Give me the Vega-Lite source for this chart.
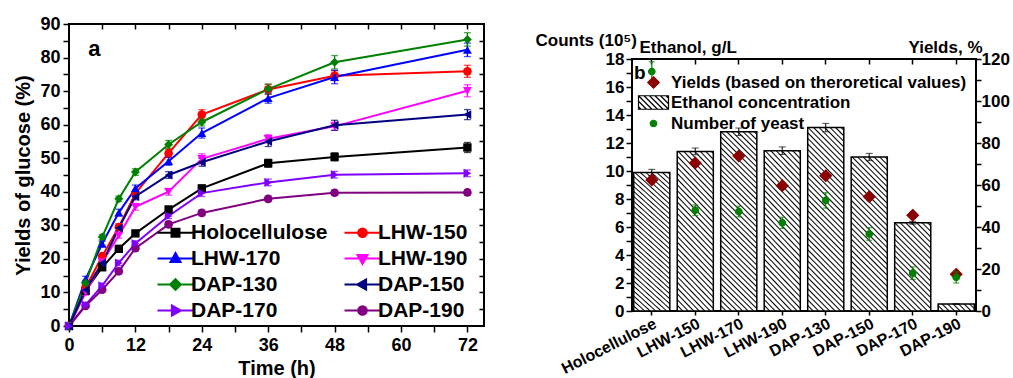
{
"$schema": "https://vega.github.io/schema/vega-lite/v6.json",
"padding": {"left": 12, "top": 14, "right": 3, "bottom": 0},
"spacing": 48,
"background": "white",
"config": {
 "font": "Liberation Sans",
 "view": {"stroke": "black", "strokeWidth": 2},
 "axis": {"labelFontWeight": "bold", "titleFontWeight": "bold", "labelColor": "black", "titleColor": "black", "tickColor": "black", "tickWidth": 1.5, "domain": false, "grid": false, "labelOverlap": false},
 "legend": {"labelFontWeight": "bold", "labelColor": "black"}
},
"datasets": {
 "glucose": [
  {"series":"Holocellulose","t":0,"v":0,"e":0},{"series":"Holocellulose","t":3,"v":10.5,"e":0.8},{"series":"Holocellulose","t":6,"v":17.5,"e":0.8},{"series":"Holocellulose","t":9,"v":23.0,"e":0.8},{"series":"Holocellulose","t":12,"v":27.6,"e":0.8},{"series":"Holocellulose","t":18,"v":34.7,"e":1.0},{"series":"Holocellulose","t":24,"v":41.0,"e":1.0},{"series":"Holocellulose","t":36,"v":48.5,"e":1.2},{"series":"Holocellulose","t":48,"v":50.4,"e":1.2},{"series":"Holocellulose","t":72,"v":53.2,"e":1.5},
  {"series":"LHW-150","t":0,"v":0,"e":0},{"series":"LHW-150","t":3,"v":11.5,"e":0.8},{"series":"LHW-150","t":6,"v":20.8,"e":0.8},{"series":"LHW-150","t":9,"v":29.5,"e":1.0},{"series":"LHW-150","t":12,"v":39.5,"e":1.0},{"series":"LHW-150","t":18,"v":51.5,"e":1.2},{"series":"LHW-150","t":24,"v":63.0,"e":1.5},{"series":"LHW-150","t":36,"v":70.5,"e":1.5},{"series":"LHW-150","t":48,"v":74.6,"e":1.5},{"series":"LHW-150","t":72,"v":75.9,"e":1.8},
  {"series":"LHW-170","t":0,"v":0,"e":0},{"series":"LHW-170","t":3,"v":14.0,"e":0.8},{"series":"LHW-170","t":6,"v":24.5,"e":0.8},{"series":"LHW-170","t":9,"v":33.8,"e":1.0},{"series":"LHW-170","t":12,"v":41.0,"e":1.0},{"series":"LHW-170","t":18,"v":49.1,"e":1.2},{"series":"LHW-170","t":24,"v":57.5,"e":1.5},{"series":"LHW-170","t":36,"v":67.9,"e":1.5},{"series":"LHW-170","t":48,"v":74.2,"e":2.0},{"series":"LHW-170","t":72,"v":82.3,"e":2.0},
  {"series":"LHW-190","t":0,"v":0,"e":0},{"series":"LHW-190","t":3,"v":10.0,"e":0.8},{"series":"LHW-190","t":6,"v":19.0,"e":0.8},{"series":"LHW-190","t":9,"v":27.0,"e":0.8},{"series":"LHW-190","t":12,"v":35.5,"e":1.0},{"series":"LHW-190","t":18,"v":40.0,"e":1.0},{"series":"LHW-190","t":24,"v":49.8,"e":1.5},{"series":"LHW-190","t":36,"v":55.8,"e":1.2},{"series":"LHW-190","t":48,"v":59.5,"e":1.2},{"series":"LHW-190","t":72,"v":70.1,"e":1.8},
  {"series":"DAP-130","t":0,"v":0,"e":0},{"series":"DAP-130","t":3,"v":12.8,"e":0.8},{"series":"DAP-130","t":6,"v":26.5,"e":0.8},{"series":"DAP-130","t":9,"v":37.9,"e":0.8},{"series":"DAP-130","t":12,"v":45.9,"e":1.0},{"series":"DAP-130","t":18,"v":54.1,"e":1.2},{"series":"DAP-130","t":24,"v":60.8,"e":1.2},{"series":"DAP-130","t":36,"v":70.6,"e":1.5},{"series":"DAP-130","t":48,"v":78.6,"e":2.0},{"series":"DAP-130","t":72,"v":85.4,"e":2.0},
  {"series":"DAP-150","t":0,"v":0,"e":0},{"series":"DAP-150","t":3,"v":10.8,"e":0.8},{"series":"DAP-150","t":6,"v":18.8,"e":0.8},{"series":"DAP-150","t":9,"v":29.2,"e":0.8},{"series":"DAP-150","t":12,"v":38.6,"e":1.0},{"series":"DAP-150","t":18,"v":45.0,"e":1.0},{"series":"DAP-150","t":24,"v":48.8,"e":1.2},{"series":"DAP-150","t":36,"v":55.0,"e":1.5},{"series":"DAP-150","t":48,"v":59.8,"e":1.5},{"series":"DAP-150","t":72,"v":63.0,"e":1.5},
  {"series":"DAP-170","t":0,"v":0,"e":0},{"series":"DAP-170","t":3,"v":6.3,"e":0.6},{"series":"DAP-170","t":6,"v":12.0,"e":0.8},{"series":"DAP-170","t":9,"v":18.8,"e":0.8},{"series":"DAP-170","t":12,"v":24.6,"e":0.8},{"series":"DAP-170","t":18,"v":32.8,"e":0.8},{"series":"DAP-170","t":24,"v":39.6,"e":1.0},{"series":"DAP-170","t":36,"v":42.8,"e":1.0},{"series":"DAP-170","t":48,"v":45.1,"e":1.0},{"series":"DAP-170","t":72,"v":45.5,"e":1.0},
  {"series":"DAP-190","t":0,"v":0,"e":0},{"series":"DAP-190","t":3,"v":6.0,"e":0.6},{"series":"DAP-190","t":6,"v":10.8,"e":0.6},{"series":"DAP-190","t":9,"v":16.3,"e":0.8},{"series":"DAP-190","t":12,"v":23.2,"e":0.8},{"series":"DAP-190","t":18,"v":30.3,"e":0.8},{"series":"DAP-190","t":24,"v":33.7,"e":0.8},{"series":"DAP-190","t":36,"v":37.9,"e":0.8},{"series":"DAP-190","t":48,"v":39.7,"e":0.8},{"series":"DAP-190","t":72,"v":39.8,"e":0.8}
 ],
 "eth": [
  {"sample":"Holocellulose","ethanol":9.9,"ethanol_err":0.22,"yield":62.4,"yield_err":1.5,"yeast":17.1,"yeast_err":0.7},
  {"sample":"LHW-150","ethanol":11.4,"ethanol_err":0.24,"yield":70.5,"yield_err":1.5,"yeast":7.2,"yeast_err":0.38},
  {"sample":"LHW-170","ethanol":12.8,"ethanol_err":0.27,"yield":73.8,"yield_err":1.5,"yeast":7.1,"yeast_err":0.38},
  {"sample":"LHW-190","ethanol":11.45,"ethanol_err":0.27,"yield":59.7,"yield_err":1.5,"yeast":6.3,"yeast_err":0.4},
  {"sample":"DAP-130","ethanol":13.1,"ethanol_err":0.3,"yield":64.4,"yield_err":1.5,"yeast":7.9,"yeast_err":0.55},
  {"sample":"DAP-150","ethanol":11.0,"ethanol_err":0.26,"yield":54.4,"yield_err":1.5,"yeast":5.5,"yeast_err":0.45},
  {"sample":"DAP-170","ethanol":6.3,"ethanol_err":0.1,"yield":45.6,"yield_err":1.5,"yeast":2.7,"yeast_err":0.45},
  {"sample":"DAP-190","ethanol":0.5,"ethanol_err":0,"yield":17.5,"yield_err":1.5,"yeast":2.4,"yeast_err":0.4}
 ]
},
"hconcat": [
 {
  "width": 415, "height": 302,
  "data": {"name": "glucose"},
  "layer": [
   {"mark": {"type": "point", "filled": true, "opacity": 1, "size": 0, "strokeWidth": 2},
    "encoding": {
     "x": {"field": "t", "type": "quantitative", "axis": null},
     "y": {"field": "v", "type": "quantitative", "axis": null},
     "fill": {"field": "series", "type": "nominal",
       "scale": {"domain": ["Holocellulose","LHW-150","LHW-170","LHW-190","DAP-130","DAP-150","DAP-170","DAP-190"], "range": ["#000000","#ff0000","#0000ff","#ff00ff","#008000","#000080","#8000ff","#800080"]},
       "legend": {"title": null, "orient": "none", "direction": "horizontal", "legendX": 96, "legendY": 198, "columns": 2, "symbolSize": 100, "symbolOpacity": 1, "symbolStrokeWidth": 2, "labelFontSize": 21, "labelOffset": 5, "columnPadding": 12, "rowPadding": 4, "labelLimit": 300}},
     "stroke": {"field": "series", "type": "nominal",
       "scale": {"domain": ["Holocellulose","LHW-150","LHW-170","LHW-190","DAP-130","DAP-150","DAP-170","DAP-190"], "range": ["#000000","#ff0000","#0000ff","#ff00ff","#008000","#000080","#8000ff","#800080"]}},
     "shape": {"field": "series", "type": "nominal",
       "scale": {"domain": ["Holocellulose","LHW-150","LHW-170","LHW-190","DAP-130","DAP-150","DAP-170","DAP-190"],
                 "range": ["M-3.6,0H3.6M-0.8,-0.8H0.8V0.8H-0.8Z",
                           "M-3.6,0H3.6M0.86,0A0.86,0.86,0,1,1,-0.86,0A0.86,0.86,0,1,1,0.86,0Z",
                           "M-3.6,0H3.6M0,-1.08L1,0.72L-1,0.72Z",
                           "M-3.6,0H3.6M0,1.08L1,-0.72L-1,-0.72Z",
                           "M-3.6,0H3.6M0,-1.08L1.08,0L0,1.08L-1.08,0Z",
                           "M-3.6,0H3.6M-1.08,0L0.72,-1L0.72,1Z",
                           "M-3.6,0H3.6M1.08,0L-0.72,-1L-0.72,1Z",
                           "M-3.6,0H3.6M0.86,0A0.86,0.86,0,1,1,-0.86,0A0.86,0.86,0,1,1,0.86,0Z"]}}
    }},
   {"mark": {"type": "line", "strokeWidth": 2},
    "encoding": {
     "x": {"field": "t", "type": "quantitative", "scale": {"domain": [0, 75], "nice": false, "zero": false},
           "axis": {"orient": "bottom", "values": [0,6,12,18,24,30,36,42,48,54,60,66,72], "labelExpr": "datum.value % 12 === 0 ? datum.label : ''", "tickSize": 6, "labelFontSize": 18, "labelPadding": 4, "labelFlush": false, "title": "Time (h)", "titleFontSize": 20, "titlePadding": 4,
                    "encode": {"ticks": {"update": {"y2": [{"test": "datum.value % 12 === 0", "value": 6}, {"value": 3}]}}}}},
     "y": {"field": "v", "type": "quantitative", "scale": {"domain": [0, 90], "nice": false},
           "axis": {"orient": "left", "values": [0,5,10,15,20,25,30,35,40,45,50,55,60,65,70,75,80,85,90], "labelExpr": "datum.value % 10 === 0 ? datum.label : ''", "tickSize": 6, "labelFontSize": 18, "labelPadding": 3, "title": "Yields of glucose (%)", "titleFontSize": 20, "titlePadding": 6,
                    "encode": {"ticks": {"update": {"x2": [{"test": "datum.value % 10 === 0", "value": -6}, {"value": -3}]}}}}},
     "color": {"field": "series", "type": "nominal", "scale": {"domain": ["Holocellulose","LHW-150","LHW-170","LHW-190","DAP-130","DAP-150","DAP-170","DAP-190"], "range": ["#000000","#ff0000","#0000ff","#ff00ff","#008000","#000080","#8000ff","#800080"]}, "legend": null}
    }},
   {"mark": {"type": "errorbar", "ticks": {"size": 7}, "thickness": 1.3},
    "encoding": {
     "x": {"field": "t", "type": "quantitative", "axis": null},
     "y": {"field": "v", "type": "quantitative", "axis": null},
     "yError": {"field": "e"},
     "color": {"field": "series", "type": "nominal", "legend": null}
    }},
   {"transform": [{"filter": {"field": "series", "oneOf": ["Holocellulose"]}}],
    "mark": {"type": "point", "filled": true, "size": 70, "opacity": 1, "shape": "square"},
    "encoding": {
     "x": {"field": "t", "type": "quantitative", "axis": {"orient": "top", "values": [6,12,18,24,30,36,42,48,54,60,66,72], "labels": false, "tickSize": -5, "title": null}},
     "y": {"field": "v", "type": "quantitative", "axis": {"orient": "right", "values": [5,10,15,20,25,30,35,40,45,50,55,60,65,70,75,80,85], "labels": false, "tickSize": -5, "title": null}},
     "color": {"field": "series", "type": "nominal", "legend": null}
    }},
   {"transform": [{"filter": {"field": "series", "oneOf": ["LHW-150","DAP-190"]}}],
    "mark": {"type": "point", "filled": true, "size": 75, "opacity": 1, "shape": "circle"},
    "encoding": {"x": {"field": "t", "type": "quantitative", "axis": null}, "y": {"field": "v", "type": "quantitative", "axis": null}, "color": {"field": "series", "type": "nominal", "legend": null}}},
   {"transform": [{"filter": {"field": "series", "oneOf": ["LHW-170"]}}],
    "mark": {"type": "point", "filled": true, "size": 80, "opacity": 1, "shape": "triangle-up"},
    "encoding": {"x": {"field": "t", "type": "quantitative", "axis": null}, "y": {"field": "v", "type": "quantitative", "axis": null}, "color": {"field": "series", "type": "nominal", "legend": null}}},
   {"transform": [{"filter": {"field": "series", "oneOf": ["LHW-190"]}}],
    "mark": {"type": "point", "filled": true, "size": 80, "opacity": 1, "shape": "triangle-down"},
    "encoding": {"x": {"field": "t", "type": "quantitative", "axis": null}, "y": {"field": "v", "type": "quantitative", "axis": null}, "color": {"field": "series", "type": "nominal", "legend": null}}},
   {"transform": [{"filter": {"field": "series", "oneOf": ["DAP-130"]}}],
    "mark": {"type": "point", "filled": true, "size": 80, "opacity": 1, "shape": "diamond"},
    "encoding": {"x": {"field": "t", "type": "quantitative", "axis": null}, "y": {"field": "v", "type": "quantitative", "axis": null}, "color": {"field": "series", "type": "nominal", "legend": null}}},
   {"transform": [{"filter": {"field": "series", "oneOf": ["DAP-150"]}}],
    "mark": {"type": "point", "filled": true, "size": 80, "opacity": 1, "shape": "triangle-left"},
    "encoding": {"x": {"field": "t", "type": "quantitative", "axis": null}, "y": {"field": "v", "type": "quantitative", "axis": null}, "color": {"field": "series", "type": "nominal", "legend": null}}},
   {"transform": [{"filter": {"field": "series", "oneOf": ["DAP-170"]}}],
    "mark": {"type": "point", "filled": true, "size": 80, "opacity": 1, "shape": "triangle-right"},
    "encoding": {"x": {"field": "t", "type": "quantitative", "axis": null}, "y": {"field": "v", "type": "quantitative", "axis": null}, "color": {"field": "series", "type": "nominal", "legend": null}}},
   {"data": {"values": [{"label": "a"}]},
    "mark": {"type": "text", "fontSize": 22, "fontWeight": "bold", "align": "left", "baseline": "middle", "color": "black"},
    "encoding": {"x": {"datum": 3.5, "type": "quantitative", "axis": null}, "y": {"datum": 82.5, "type": "quantitative", "axis": null}, "text": {"field": "label"}}}
  ],
  "resolve": {"axis": {"x": "independent", "y": "independent"}}
 },
 {
  "spacing": 0,
  "vconcat": [
   {"width": 344, "height": 6, "data": {"values": []}, "mark": "point", "encoding": {}, "view": {"stroke": null}},
   {
    "width": 344, "height": 252,
    "data": {"name": "eth"},
    "layer": [
     {"transform": [{"filter": {"field": "sample", "oneOf": ["Holocellulose","LHW-150","LHW-190","DAP-150"]}}],
      "mark": {"type": "bar", "stroke": "black", "strokeWidth": 1.5,
        "fill": {"gradient":"linear","x1":0,"y1":1,"x2":0.3214,"y2":-0.3622,"stops":[{"offset":0,"color":"#000"},{"offset":0.0065,"color":"#fff"},{"offset":0.0185,"color":"#fff"},{"offset":0.025,"color":"#000"},{"offset":0.0315,"color":"#fff"},{"offset":0.0435,"color":"#fff"},{"offset":0.05,"color":"#000"},{"offset":0.0565,"color":"#fff"},{"offset":0.0685,"color":"#fff"},{"offset":0.075,"color":"#000"},{"offset":0.0815,"color":"#fff"},{"offset":0.0935,"color":"#fff"},{"offset":0.1,"color":"#000"},{"offset":0.1065,"color":"#fff"},{"offset":0.1185,"color":"#fff"},{"offset":0.125,"color":"#000"},{"offset":0.1315,"color":"#fff"},{"offset":0.1435,"color":"#fff"},{"offset":0.15,"color":"#000"},{"offset":0.1565,"color":"#fff"},{"offset":0.1685,"color":"#fff"},{"offset":0.175,"color":"#000"},{"offset":0.1815,"color":"#fff"},{"offset":0.1935,"color":"#fff"},{"offset":0.2,"color":"#000"},{"offset":0.2065,"color":"#fff"},{"offset":0.2185,"color":"#fff"},{"offset":0.225,"color":"#000"},{"offset":0.2315,"color":"#fff"},{"offset":0.2435,"color":"#fff"},{"offset":0.25,"color":"#000"},{"offset":0.2565,"color":"#fff"},{"offset":0.2685,"color":"#fff"},{"offset":0.275,"color":"#000"},{"offset":0.2815,"color":"#fff"},{"offset":0.2935,"color":"#fff"},{"offset":0.3,"color":"#000"},{"offset":0.3065,"color":"#fff"},{"offset":0.3185,"color":"#fff"},{"offset":0.325,"color":"#000"},{"offset":0.3315,"color":"#fff"},{"offset":0.3435,"color":"#fff"},{"offset":0.35,"color":"#000"},{"offset":0.3565,"color":"#fff"},{"offset":0.3685,"color":"#fff"},{"offset":0.375,"color":"#000"},{"offset":0.3815,"color":"#fff"},{"offset":0.3935,"color":"#fff"},{"offset":0.4,"color":"#000"},{"offset":0.4065,"color":"#fff"},{"offset":0.4185,"color":"#fff"},{"offset":0.425,"color":"#000"},{"offset":0.4315,"color":"#fff"},{"offset":0.4435,"color":"#fff"},{"offset":0.45,"color":"#000"},{"offset":0.4565,"color":"#fff"},{"offset":0.4685,"color":"#fff"},{"offset":0.475,"color":"#000"},{"offset":0.4815,"color":"#fff"},{"offset":0.4935,"color":"#fff"},{"offset":0.5,"color":"#000"},{"offset":0.5065,"color":"#fff"},{"offset":0.5185,"color":"#fff"},{"offset":0.525,"color":"#000"},{"offset":0.5315,"color":"#fff"},{"offset":0.5435,"color":"#fff"},{"offset":0.55,"color":"#000"},{"offset":0.5565,"color":"#fff"},{"offset":0.5685,"color":"#fff"},{"offset":0.575,"color":"#000"},{"offset":0.5815,"color":"#fff"},{"offset":0.5935,"color":"#fff"},{"offset":0.6,"color":"#000"},{"offset":0.6065,"color":"#fff"},{"offset":0.6185,"color":"#fff"},{"offset":0.625,"color":"#000"},{"offset":0.6315,"color":"#fff"},{"offset":0.6435,"color":"#fff"},{"offset":0.65,"color":"#000"},{"offset":0.6565,"color":"#fff"},{"offset":0.6685,"color":"#fff"},{"offset":0.675,"color":"#000"},{"offset":0.6815,"color":"#fff"},{"offset":0.6935,"color":"#fff"},{"offset":0.7,"color":"#000"},{"offset":0.7065,"color":"#fff"},{"offset":0.7185,"color":"#fff"},{"offset":0.725,"color":"#000"},{"offset":0.7315,"color":"#fff"},{"offset":0.7435,"color":"#fff"},{"offset":0.75,"color":"#000"},{"offset":0.7565,"color":"#fff"},{"offset":0.7685,"color":"#fff"},{"offset":0.775,"color":"#000"},{"offset":0.7815,"color":"#fff"},{"offset":0.7935,"color":"#fff"},{"offset":0.8,"color":"#000"},{"offset":0.8065,"color":"#fff"},{"offset":0.8185,"color":"#fff"},{"offset":0.825,"color":"#000"},{"offset":0.8315,"color":"#fff"},{"offset":0.8435,"color":"#fff"},{"offset":0.85,"color":"#000"},{"offset":0.8565,"color":"#fff"},{"offset":0.8685,"color":"#fff"},{"offset":0.875,"color":"#000"},{"offset":0.8815,"color":"#fff"},{"offset":0.8935,"color":"#fff"},{"offset":0.9,"color":"#000"},{"offset":0.9065,"color":"#fff"},{"offset":0.9185,"color":"#fff"},{"offset":0.925,"color":"#000"},{"offset":0.9315,"color":"#fff"},{"offset":0.9435,"color":"#fff"},{"offset":0.95,"color":"#000"},{"offset":0.9565,"color":"#fff"},{"offset":0.9685,"color":"#fff"},{"offset":0.975,"color":"#000"},{"offset":0.9815,"color":"#fff"},{"offset":0.9935,"color":"#fff"},{"offset":1,"color":"#000"}]}},
      "encoding": {
       "x": {"field": "sample", "type": "nominal", "sort": null, "scale": {"type": "band", "domain": ["Holocellulose","LHW-150","LHW-170","LHW-190","DAP-130","DAP-150","DAP-170","DAP-190"], "paddingInner": 0.17, "paddingOuter": 0.04},
             "axis": {"orient": "bottom", "title": null, "labelAngle": -27, "labelAlign": "right", "labelBaseline": "top", "labelFontSize": 16, "labelPadding": 0, "tickSize": 4}},
       "y": {"field": "ethanol", "type": "quantitative", "scale": {"domain": [0, 18], "nice": false},
             "axis": {"orient": "left", "values": [0,1,2,3,4,5,6,7,8,9,10,11,12,13,14,15,16,17,18], "labelExpr": "datum.value % 2 === 0 ? datum.label : ''", "tickSize": 6, "labelFontSize": 17, "labelPadding": 2,
                      "title": "Counts (10⁵)", "titleAngle": 0, "titleAlign": "left", "titleBaseline": "alphabetic", "titleX": -97, "titleY": -14, "titleFontSize": 17,
                      "encode": {"ticks": {"update": {"x2": [{"test": "datum.value % 2 === 0", "value": -6}, {"value": -3}]}}}}}
      }},
     {"transform": [{"filter": {"field": "sample", "oneOf": ["LHW-170","DAP-130"]}}],
      "mark": {"type": "bar", "stroke": "black", "strokeWidth": 1.5,
        "fill": {"gradient":"linear","x1":0,"y1":1,"x2":0.2331,"y2":-0.1688,"stops":[{"offset":0,"color":"#000"},{"offset":0.0065,"color":"#fff"},{"offset":0.0185,"color":"#fff"},{"offset":0.025,"color":"#000"},{"offset":0.0315,"color":"#fff"},{"offset":0.0435,"color":"#fff"},{"offset":0.05,"color":"#000"},{"offset":0.0565,"color":"#fff"},{"offset":0.0685,"color":"#fff"},{"offset":0.075,"color":"#000"},{"offset":0.0815,"color":"#fff"},{"offset":0.0935,"color":"#fff"},{"offset":0.1,"color":"#000"},{"offset":0.1065,"color":"#fff"},{"offset":0.1185,"color":"#fff"},{"offset":0.125,"color":"#000"},{"offset":0.1315,"color":"#fff"},{"offset":0.1435,"color":"#fff"},{"offset":0.15,"color":"#000"},{"offset":0.1565,"color":"#fff"},{"offset":0.1685,"color":"#fff"},{"offset":0.175,"color":"#000"},{"offset":0.1815,"color":"#fff"},{"offset":0.1935,"color":"#fff"},{"offset":0.2,"color":"#000"},{"offset":0.2065,"color":"#fff"},{"offset":0.2185,"color":"#fff"},{"offset":0.225,"color":"#000"},{"offset":0.2315,"color":"#fff"},{"offset":0.2435,"color":"#fff"},{"offset":0.25,"color":"#000"},{"offset":0.2565,"color":"#fff"},{"offset":0.2685,"color":"#fff"},{"offset":0.275,"color":"#000"},{"offset":0.2815,"color":"#fff"},{"offset":0.2935,"color":"#fff"},{"offset":0.3,"color":"#000"},{"offset":0.3065,"color":"#fff"},{"offset":0.3185,"color":"#fff"},{"offset":0.325,"color":"#000"},{"offset":0.3315,"color":"#fff"},{"offset":0.3435,"color":"#fff"},{"offset":0.35,"color":"#000"},{"offset":0.3565,"color":"#fff"},{"offset":0.3685,"color":"#fff"},{"offset":0.375,"color":"#000"},{"offset":0.3815,"color":"#fff"},{"offset":0.3935,"color":"#fff"},{"offset":0.4,"color":"#000"},{"offset":0.4065,"color":"#fff"},{"offset":0.4185,"color":"#fff"},{"offset":0.425,"color":"#000"},{"offset":0.4315,"color":"#fff"},{"offset":0.4435,"color":"#fff"},{"offset":0.45,"color":"#000"},{"offset":0.4565,"color":"#fff"},{"offset":0.4685,"color":"#fff"},{"offset":0.475,"color":"#000"},{"offset":0.4815,"color":"#fff"},{"offset":0.4935,"color":"#fff"},{"offset":0.5,"color":"#000"},{"offset":0.5065,"color":"#fff"},{"offset":0.5185,"color":"#fff"},{"offset":0.525,"color":"#000"},{"offset":0.5315,"color":"#fff"},{"offset":0.5435,"color":"#fff"},{"offset":0.55,"color":"#000"},{"offset":0.5565,"color":"#fff"},{"offset":0.5685,"color":"#fff"},{"offset":0.575,"color":"#000"},{"offset":0.5815,"color":"#fff"},{"offset":0.5935,"color":"#fff"},{"offset":0.6,"color":"#000"},{"offset":0.6065,"color":"#fff"},{"offset":0.6185,"color":"#fff"},{"offset":0.625,"color":"#000"},{"offset":0.6315,"color":"#fff"},{"offset":0.6435,"color":"#fff"},{"offset":0.65,"color":"#000"},{"offset":0.6565,"color":"#fff"},{"offset":0.6685,"color":"#fff"},{"offset":0.675,"color":"#000"},{"offset":0.6815,"color":"#fff"},{"offset":0.6935,"color":"#fff"},{"offset":0.7,"color":"#000"},{"offset":0.7065,"color":"#fff"},{"offset":0.7185,"color":"#fff"},{"offset":0.725,"color":"#000"},{"offset":0.7315,"color":"#fff"},{"offset":0.7435,"color":"#fff"},{"offset":0.75,"color":"#000"},{"offset":0.7565,"color":"#fff"},{"offset":0.7685,"color":"#fff"},{"offset":0.775,"color":"#000"},{"offset":0.7815,"color":"#fff"},{"offset":0.7935,"color":"#fff"},{"offset":0.8,"color":"#000"},{"offset":0.8065,"color":"#fff"},{"offset":0.8185,"color":"#fff"},{"offset":0.825,"color":"#000"},{"offset":0.8315,"color":"#fff"},{"offset":0.8435,"color":"#fff"},{"offset":0.85,"color":"#000"},{"offset":0.8565,"color":"#fff"},{"offset":0.8685,"color":"#fff"},{"offset":0.875,"color":"#000"},{"offset":0.8815,"color":"#fff"},{"offset":0.8935,"color":"#fff"},{"offset":0.9,"color":"#000"},{"offset":0.9065,"color":"#fff"},{"offset":0.9185,"color":"#fff"},{"offset":0.925,"color":"#000"},{"offset":0.9315,"color":"#fff"},{"offset":0.9435,"color":"#fff"},{"offset":0.95,"color":"#000"},{"offset":0.9565,"color":"#fff"},{"offset":0.9685,"color":"#fff"},{"offset":0.975,"color":"#000"},{"offset":0.9815,"color":"#fff"},{"offset":0.9935,"color":"#fff"},{"offset":1,"color":"#000"}]}},
      "encoding": {"x": {"field": "sample", "type": "nominal", "sort": null, "axis": null}, "y": {"field": "ethanol", "type": "quantitative", "scale": {"domain": [0, 18], "nice": false}, "axis": null}}},
     {"transform": [{"filter": {"field": "sample", "oneOf": ["DAP-170"]}}],
      "mark": {"type": "bar", "stroke": "black", "strokeWidth": 1.5,
        "fill": {"gradient":"linear","x1":0,"y1":1,"x2":0.8779,"y2":-1.14,"stops":[{"offset":0,"color":"#000"},{"offset":0.0065,"color":"#fff"},{"offset":0.0185,"color":"#fff"},{"offset":0.025,"color":"#000"},{"offset":0.0315,"color":"#fff"},{"offset":0.0435,"color":"#fff"},{"offset":0.05,"color":"#000"},{"offset":0.0565,"color":"#fff"},{"offset":0.0685,"color":"#fff"},{"offset":0.075,"color":"#000"},{"offset":0.0815,"color":"#fff"},{"offset":0.0935,"color":"#fff"},{"offset":0.1,"color":"#000"},{"offset":0.1065,"color":"#fff"},{"offset":0.1185,"color":"#fff"},{"offset":0.125,"color":"#000"},{"offset":0.1315,"color":"#fff"},{"offset":0.1435,"color":"#fff"},{"offset":0.15,"color":"#000"},{"offset":0.1565,"color":"#fff"},{"offset":0.1685,"color":"#fff"},{"offset":0.175,"color":"#000"},{"offset":0.1815,"color":"#fff"},{"offset":0.1935,"color":"#fff"},{"offset":0.2,"color":"#000"},{"offset":0.2065,"color":"#fff"},{"offset":0.2185,"color":"#fff"},{"offset":0.225,"color":"#000"},{"offset":0.2315,"color":"#fff"},{"offset":0.2435,"color":"#fff"},{"offset":0.25,"color":"#000"},{"offset":0.2565,"color":"#fff"},{"offset":0.2685,"color":"#fff"},{"offset":0.275,"color":"#000"},{"offset":0.2815,"color":"#fff"},{"offset":0.2935,"color":"#fff"},{"offset":0.3,"color":"#000"},{"offset":0.3065,"color":"#fff"},{"offset":0.3185,"color":"#fff"},{"offset":0.325,"color":"#000"},{"offset":0.3315,"color":"#fff"},{"offset":0.3435,"color":"#fff"},{"offset":0.35,"color":"#000"},{"offset":0.3565,"color":"#fff"},{"offset":0.3685,"color":"#fff"},{"offset":0.375,"color":"#000"},{"offset":0.3815,"color":"#fff"},{"offset":0.3935,"color":"#fff"},{"offset":0.4,"color":"#000"},{"offset":0.4065,"color":"#fff"},{"offset":0.4185,"color":"#fff"},{"offset":0.425,"color":"#000"},{"offset":0.4315,"color":"#fff"},{"offset":0.4435,"color":"#fff"},{"offset":0.45,"color":"#000"},{"offset":0.4565,"color":"#fff"},{"offset":0.4685,"color":"#fff"},{"offset":0.475,"color":"#000"},{"offset":0.4815,"color":"#fff"},{"offset":0.4935,"color":"#fff"},{"offset":0.5,"color":"#000"},{"offset":0.5065,"color":"#fff"},{"offset":0.5185,"color":"#fff"},{"offset":0.525,"color":"#000"},{"offset":0.5315,"color":"#fff"},{"offset":0.5435,"color":"#fff"},{"offset":0.55,"color":"#000"},{"offset":0.5565,"color":"#fff"},{"offset":0.5685,"color":"#fff"},{"offset":0.575,"color":"#000"},{"offset":0.5815,"color":"#fff"},{"offset":0.5935,"color":"#fff"}]}},
      "encoding": {"x": {"field": "sample", "type": "nominal", "sort": null, "axis": null}, "y": {"field": "ethanol", "type": "quantitative", "scale": {"domain": [0, 18], "nice": false}, "axis": null}}},
     {"transform": [{"filter": {"field": "sample", "oneOf": ["DAP-190"]}}],
      "mark": {"type": "bar", "stroke": "black", "strokeWidth": 1.5,
        "fill": {"gradient":"linear","x1":0,"y1":1,"x2":5.873,"y2":-0.1388,"stops":[{"offset":0,"color":"#000"},{"offset":0.0065,"color":"#fff"},{"offset":0.0185,"color":"#fff"},{"offset":0.025,"color":"#000"},{"offset":0.0315,"color":"#fff"},{"offset":0.0435,"color":"#fff"},{"offset":0.05,"color":"#000"},{"offset":0.0565,"color":"#fff"},{"offset":0.0685,"color":"#fff"},{"offset":0.075,"color":"#000"},{"offset":0.0815,"color":"#fff"},{"offset":0.0935,"color":"#fff"},{"offset":0.1,"color":"#000"},{"offset":0.1065,"color":"#fff"},{"offset":0.1185,"color":"#fff"},{"offset":0.125,"color":"#000"},{"offset":0.1315,"color":"#fff"},{"offset":0.1435,"color":"#fff"},{"offset":0.15,"color":"#000"},{"offset":0.1565,"color":"#fff"},{"offset":0.1685,"color":"#fff"},{"offset":0.175,"color":"#000"},{"offset":0.1815,"color":"#fff"},{"offset":0.1935,"color":"#fff"},{"offset":0.2,"color":"#000"},{"offset":0.2065,"color":"#fff"},{"offset":0.2185,"color":"#fff"},{"offset":0.225,"color":"#000"},{"offset":0.2315,"color":"#fff"},{"offset":0.2435,"color":"#fff"}]}},
      "encoding": {"x": {"field": "sample", "type": "nominal", "sort": null, "axis": null}, "y": {"field": "ethanol", "type": "quantitative", "scale": {"domain": [0, 18], "nice": false}, "axis": null}}},
     {"mark": {"type": "errorbar", "ticks": {"size": 7}, "thickness": 1, "color": "black"},
      "encoding": {"x": {"field": "sample", "type": "nominal", "sort": null, "axis": null}, "y": {"field": "ethanol", "type": "quantitative", "scale": {"domain": [0, 18], "nice": false}, "axis": null}, "yError": {"field": "ethanol_err"}}},
     {"data": {"values": [{"label": "b"}]},
      "mark": {"type": "text", "fontSize": 19, "fontWeight": "bold", "align": "center", "baseline": "middle", "dx": -12, "color": "black"},
      "encoding": {"x": {"datum": "Holocellulose", "type": "nominal", "axis": null}, "y": {"datum": 17.0, "type": "quantitative", "scale": {"domain": [0, 18], "nice": false}, "axis": null}, "text": {"field": "label"}}},
     {"mark": {"type": "errorbar", "ticks": {"size": 6}, "thickness": 1, "color": "#8b0000"},
      "encoding": {"x": {"field": "sample", "type": "nominal", "sort": null, "axis": null}, "y": {"field": "yield", "type": "quantitative", "scale": {"domain": [0, 120], "nice": false}, "axis": null}, "yError": {"field": "yield_err"}}},
     {"mark": {"type": "point", "filled": true, "size": 100, "opacity": 1, "strokeWidth": 1.2},
      "encoding": {
       "x": {"field": "sample", "type": "nominal", "sort": null, "axis": {"orient": "top", "labels": false, "tickSize": -5, "title": "Ethanol, g/L", "titleAngle": 0, "titleAlign": "left", "titleBaseline": "alphabetic", "titleX": 7, "titleY": -7, "titleFontSize": 17}},
       "y": {"field": "yield", "type": "quantitative", "scale": {"domain": [0, 120], "nice": false},
             "axis": {"orient": "right", "values": [0,10,20,30,40,50,60,70,80,90,100,110,120], "labelExpr": "datum.value % 20 === 0 ? datum.label : ''", "tickSize": 5, "labelFontSize": 17, "labelPadding": 0,
                      "title": "Yields, %", "titleAngle": 0, "titleAlign": "right", "titleBaseline": "alphabetic", "titleX": 6, "titleY": -7, "titleFontSize": 17,
                      "encode": {"ticks": {"update": {"x2": [{"test": "datum.value % 20 === 0", "value": 5}, {"value": 3}]}}}}},
       "fill": {"datum": "Yields (based on theroretical values)",
         "scale": {"domain": ["Yields (based on theroretical values)", "Ethanol concentration", "Number of yeast"], "range": ["#8b0000", "#ffffff", "#008000"]},
         "legend": {"title": null, "orient": "none", "legendX": 13, "legendY": 50, "symbolSize": 100, "symbolOpacity": 1, "symbolStrokeWidth": 1.2, "labelFontSize": 17, "labelOffset": 9, "rowPadding": 2, "labelLimit": 400}},
       "stroke": {"datum": "Yields (based on theroretical values)",
         "scale": {"domain": ["Yields (based on theroretical values)", "Ethanol concentration", "Number of yeast"], "range": ["#8b0000", "#000000", "#008000"]}},
       "shape": {"datum": "Yields (based on theroretical values)",
         "scale": {"domain": ["Yields (based on theroretical values)", "Ethanol concentration", "Number of yeast"],
                   "range": ["M0,-1.15L1.15,0L0,1.15L-1.15,0Z",
                             "M-3,-1.35H3V1.35H-3ZM-3,0.855L-2.505,1.35M-3,-0.246L-1.404,1.35M-3,-1.347L-0.303,1.35M-1.902,-1.35L0.798,1.35M-0.798,-1.35L1.902,1.35M0.303,-1.35L3,1.347M1.404,-1.35L3,0.246M2.505,-1.35L3,-0.855",
                             "M0.65,0A0.65,0.65,0,1,1,-0.65,0A0.65,0.65,0,1,1,0.65,0Z"]}}
      }},
     {"mark": {"type": "errorbar", "ticks": {"size": 6}, "thickness": 1.2, "color": "#008000"},
      "encoding": {"x": {"field": "sample", "type": "nominal", "sort": null, "axis": null}, "y": {"field": "yeast", "type": "quantitative", "scale": {"domain": [0, 18], "nice": false}, "axis": null}, "yError": {"field": "yeast_err"}}},
     {"mark": {"type": "point", "filled": true, "size": 100, "opacity": 1, "strokeWidth": 1.2},
      "encoding": {"x": {"field": "sample", "type": "nominal", "sort": null, "axis": null}, "y": {"field": "yeast", "type": "quantitative", "scale": {"domain": [0, 18], "nice": false}, "axis": null},
       "fill": {"datum": "Number of yeast"}, "stroke": {"datum": "Number of yeast"}, "shape": {"datum": "Number of yeast"}}}
    ],
    "resolve": {"scale": {"y": "independent"}, "axis": {"x": "independent"}}
   }
  ]
 }
],
"resolve": {"scale": {"color": "independent", "shape": "independent", "fill": "independent", "stroke": "independent"}}
}
